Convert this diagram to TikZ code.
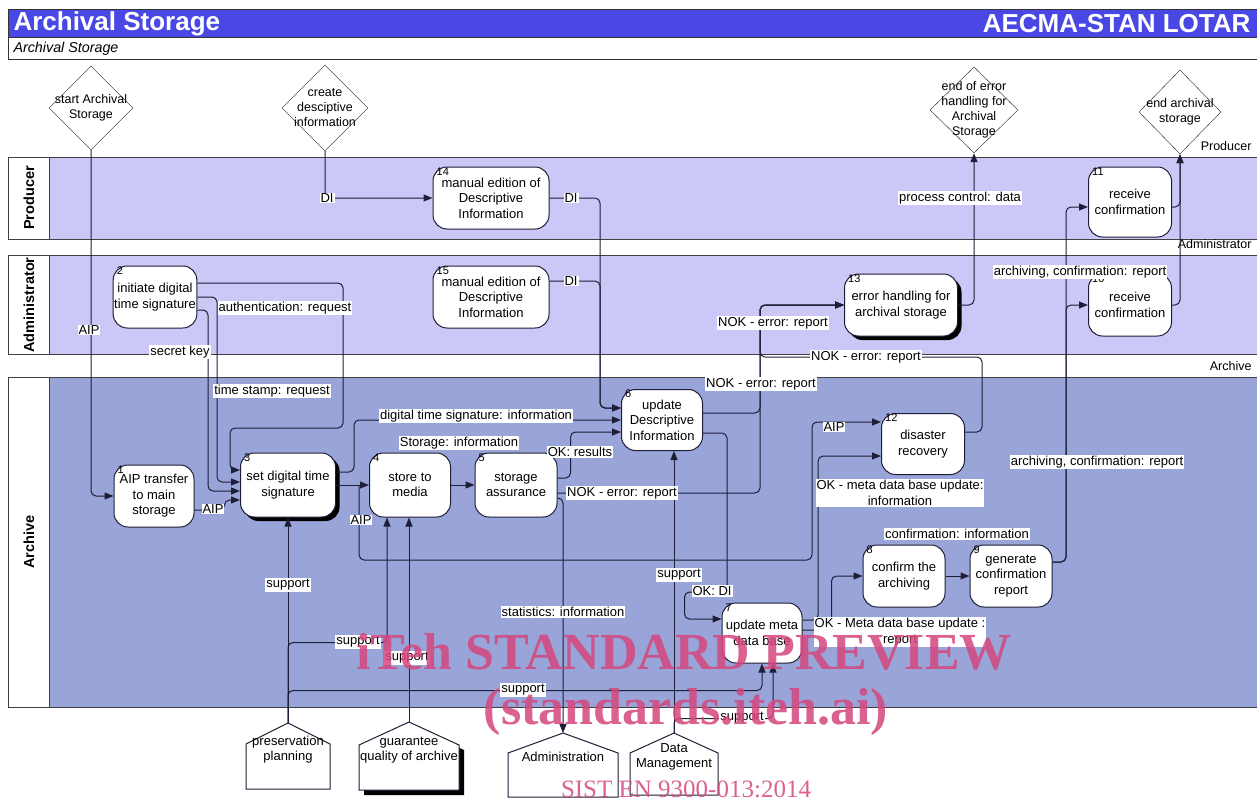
\documentclass[tikz,border=0pt]{standalone}
\usepackage{fontspec}
\setmainfont{Liberation Sans}
\newfontfamily\wmfont{Liberation Serif}
\usetikzlibrary{shapes.geometric,arrows.meta,positioning,calc,shadows}
\definecolor{hdrblue}{RGB}{74,72,228}
\definecolor{lanelight}{RGB}{203,199,246}
\definecolor{lanedark}{RGB}{153,164,216}
\definecolor{wire}{RGB}{30,30,55}
\definecolor{wmpink}{RGB}{212,70,125}

\begin{document}
\begin{tikzpicture}
[x=1pt, y=-1pt, font=\fontsize{13}{15.5}\selectfont, >={Triangle[length=9pt,width=7pt]},
 proc/.style={draw=wire, fill=white, line width=1pt, rounded corners=14pt,
   minimum width=82pt, minimum height=62pt, align=center, inner sep=1pt},
 procsh/.style={proc, drop shadow={shadow xshift=4pt, shadow yshift=-4pt, opacity=1, fill=black}},
 event/.style={draw=wire, diamond, minimum width=84pt, minimum height=84pt, inner sep=0pt},
 evtext/.style={align=center, font=\fontsize{12.5}{15}\selectfont},
 lbl/.style={fill=white, inner sep=1pt, align=center},
 num/.style={font=\fontsize{11}{11}\selectfont, inner sep=0pt, anchor=north west},
 flow/.style={draw=wire, line width=1pt, rounded corners=5pt, ->},
 lanehead/.style={draw=black!75, fill=white, line width=1pt},
 lanename/.style={rotate=90, font=\fontsize{14.5}{16}\selectfont\bfseries},
 laneside/.style={font=\fontsize{12.5}{14}\selectfont, anchor=east},
 house/.style={align=center, font=\fontsize{13}{15}\selectfont},
]
%\draw[help lines] (0,0) grid[step=50] (1257,800);
\useasboundingbox (0,0) rectangle (1257,800);

\draw[draw=black!80, fill=hdrblue, line width=1pt] (8,10) rectangle (1262,38);
\node[anchor=west, text=white, font=\fontsize{26}{28}\selectfont\bfseries] (title) at (10,24) {Archival Storage};
\node[anchor=east, text=white, font=\fontsize{26}{28}\selectfont\bfseries] (lotar) at (1254,24) {AECMA-STAN LOTAR};
\draw[draw=black!80, fill=white, line width=1pt] (8,38) rectangle (1262,60);
\node[anchor=west, font=\fontsize{14.3}{15}\selectfont\itshape] (subtitle) at (10,49) {Archival Storage};

\foreach \top/\bot/\col in {157/239/lanelight, 255/354/lanelight, 377/707/lanedark}{
  \draw[draw=black!75, fill=\col, line width=1pt] (49,\top) rectangle (1262,\bot);
  \draw[lanehead] (8,\top) rectangle (49,\bot);
}
\node[lanename] (lnProd) at (29,198) {Producer};
\node[lanename] (lnAdm) at (29,305) {Administrator};
\node[lanename] (lnArc) at (29,542) {Archive};
\node[laneside] (sdProd) at (1255,146) {Producer};
\node[laneside] (sdAdm) at (1255,244) {Administrator};
\node[laneside] (sdArc) at (1255,366) {Archive};

\node[event] (evStart) at (91,108) {};
\node[event, minimum width=86pt, minimum height=86pt] (evCreate) at (325,108) {};
\node[event, minimum width=88pt, minimum height=86pt] (evErr) at (974,110) {};
\node[event, minimum width=82pt] (evEnd) at (1180,112) {};
\node[evtext] (tStart) at (evStart) {start Archival\\Storage};
\node[evtext] (tCreate) at (evCreate) {create\\desciptive\\information};
\node[evtext] (tErr) at (evErr) {end of error\\handling for\\Archival\\Storage};
\node[evtext] (tEnd) at (evEnd) {end archival\\storage};

\node[proc, minimum width=116pt] (b14) at (491,198) {manual edition of\\Descriptive\\Information};
\node[proc, minimum width=116pt] (b15) at (491,297) {manual edition of\\Descriptive\\Information};
\node[proc, minimum width=81pt] (b2) at (155,297) {initiate digital\\time signature};
\node[procsh, minimum width=113pt] (b13) at (901,305) {error handling for\\archival storage};
\node[proc, minimum width=83pt, minimum height=70pt] (b11) at (1130,202) {receive\\confirmation};
\node[proc, minimum width=83pt] (b10) at (1130,305) {receive\\confirmation};
\node[proc, minimum width=80pt] (b1) at (154,496) {AIP transfer\\to main\\storage};
\node[procsh, minimum width=95pt, minimum height=64pt] (b3) at (288,485) {set digital time\\signature};
\node[proc, minimum width=81pt, minimum height=64pt] (b4) at (410,485) {store to\\media};
\node[proc, minimum height=64pt] (b5) at (516,485) {storage\\assurance};
\node[proc, minimum width=81pt, minimum height=61pt] (b6) at (662,420) {update\\Descriptive\\Information};
\node[proc, minimum width=83pt, minimum height=61pt] (b12) at (923,444) {disaster\\recovery};
\node[proc] (b8) at (904,576) {confirm the\\archiving};
\node[proc] (b9) at (1011,576) {generate\\confirmation\\report};
\node[proc, minimum width=80pt, minimum height=60pt] (b7) at (762,633) {update meta\\data base};
\foreach \b/\k in {b1/1,b2/2,b3/3,b4/4,b5/5,b6/6,b7/7,b8/8,b9/9,b10/10,b11/11,b12/12,b13/13,b14/14,b15/15}
  \node[num] (n\k) at ($(\b.north west)+(4,1)$) {\k};

\fill[black] (364,795) -- (364,750) -- (414,727) -- (464,750) -- (464,795) -- cycle;
\foreach \nm/\cx/\hw/\ty/\sy/\by in {plan/288/42/723/744/789, qual/409/50/722/745/790, admin/563/55/733/753/797, datam/674/44/733/753/795}{
  \draw[draw=wire, fill=white, line width=1pt] (\cx-\hw,\by) -- (\cx-\hw,\sy) -- (\cx,\ty) -- (\cx+\hw,\sy) -- (\cx+\hw,\by) -- cycle;
  \coordinate (\nm-top) at (\cx,\ty);
}
\node[house] (planTxt) at (288,750) {preservation\\planning};
\node[house] (qualTxt) at (409,750) {guarantee\\quality of archive};
\node[house] (adminTxt) at (563,757) {Administration};
\node[house] (datamTxt) at (674,757) {Data\\Management};

\draw[flow] (evStart.south) |- (b1.west);
\draw[flow] (evCreate.south) |- (b14.west);
\draw[flow] (b14.east) -| ($(b6.west)+(-21,-12)$) -- ($(b6.west)+(0,-12)$);
\draw[flow] ($(b15.east)+(0,-16)$) -| ($(b6.west)+(-21,-12)$) -- ($(b6.west)+(0,-12)$);
\draw[flow] ($(b2.east)+(0,-14)$) -| (343,428) -| ($(b3.west)+(-10,-15)$) -- ($(b3.west)+(0,-15)$);
\draw[flow] (b2.east) -| (217,450) |- ($(b3.west)+(0,-3)$);
\draw[flow] ($(b2.east)+(0,13)$) -| (208,450) |- ($(b3.west)+(0,6)$);
\draw[flow] ($(b1.east)+(0,14)$) -- ++(30,0) |- ($(b3.west)+(0,15)$);
\draw[flow] (b3.east) -- (b4.west);
\coordinate (aipfork) at ($(b3.east)!0.7!(b4.west)$);
\draw[flow] (aipfork) -- ++(0,75) -| ($(b12.west)+(-69,-22)$) -- ($(b12.west)+(0,-22)$);
\draw[flow] ($(b3.east)+(0,-13)$) -- ++(18,0) |- (b6.west);
\draw[flow] (b4.east) -- (b5.west);
\draw[flow] ($(b5.east)+(0,-7)$) -- ++(13,0) |- ($(b6.west)+(0,12)$);
\draw[flow] ($(b5.east)+(0,8)$) -| ($(b13.west)+(-84,0)$) -- (b13.west);
\draw[flow] ($(b6.east)+(0,-7)$) -| ($(b13.west)+(-84,0)$) -- (b13.west);
\draw[flow] ($(b12.east)+(0,-12)$) -| ($(b12.east)+(17,-87)$) -| ($(b13.west)+(-84,0)$) -- (b13.west);
\draw[flow] ($(b5.east)+(0,13)$) -| (admin-top);
\draw[flow] ($(b6.east)+(0,13)$) -| (727,592) -| ($(b7.west)+(-37,-14)$) -- ($(b7.west)+(0,-14)$);
\draw[flow] (datam-top) -- (datam-top |- b6.south);
\draw[flow] (datam-top) |- ($(b7.south)+(11,55)$) -- ($(b7.south)+(11,0)$);
\draw[flow] (plan-top) -- (plan-top |- b3.south);
\draw[flow] (plan-top) |- ($(b4.south)+(-23,125)$) -- ($(b4.south)+(-23,0)$);
\draw[flow] (qual-top) -- (qual-top |- b4.south);
\draw[flow] (plan-top) |- ($(b7.south)+(0,27)$) -- (b7.south);
\draw[flow] ($(b7.east)+(0,-13)$) -| ($(b12.west)+(-63,12)$) -- ($(b12.west)+(0,12)$);
\draw[flow] ($(b7.east)+(0,-3)$) -| ($(b8.west)+(-31,0)$) -- (b8.west);
\draw[flow] (b8.east) -- (b9.west);
\draw[flow] ($(b9.east)+(0,-14)$) -| ($(b10.west)+(-22,0)$) -- (b10.west);
\draw[flow] ($(b9.east)+(0,-14)$) -| ($(b11.west)+(-22,5)$) -- ($(b11.west)+(0,5)$);
\draw[flow] ($(b11.east)+(0,5)$) -| (evEnd.south);
\draw[flow] (b10.east) -| (evEnd.south);
\draw[flow] (b13.east) -| (evErr.south);

\node[lbl] (l1) at (89,330) {AIP};
\node[lbl] (l2) at (327,198) {DI};
\node[lbl] (l3) at (571,198) {DI};
\node[lbl] (l4) at (571,281) {DI};
\node[lbl] (l5) at (285,308) {authentication: request};
\node[lbl] (l6) at (180,352) {secret key};
\node[lbl] (l7) at (272,391) {time stamp: request};
\node[lbl] (l8) at (213,509) {AIP};
\node[lbl] (l9) at (476,416) {digital time signature: information};
\node[lbl] (l10) at (459,443) {Storage: information};
\node[lbl] (l11) at (580,452) {OK: results};
\node[lbl] (l12) at (622,493) {NOK - error: report};
\node[lbl] (l13) at (361,520) {AIP};
\node[lbl] (l14) at (288,585) {support};
\node[lbl] (l15) at (358,642) {support};
\node[lbl] (l16) at (407,658) {support};
\node[lbl] (l17) at (523,690) {support};
\node[lbl] (l18) at (563,612) {statistics: information};
\node[lbl] (l19) at (679,575) {support};
\node[lbl] (l20) at (712,591) {OK: DI};
\node[lbl] (l21) at (742,718) {support};
\node[lbl] (l22) at (761,384) {NOK - error: report};
\node[lbl] (l23) at (773,323) {NOK - error: report};
\node[lbl] (l24) at (866,357) {NOK - error: report};
\node[lbl] (l25) at (834,427) {AIP};
\node[lbl] (l26) at (900,493) {OK - meta data base update:\\information};
\node[lbl] (l27) at (957,534) {confirmation: information};
\node[lbl] (l28) at (900,632) {OK - Meta data base update :\\report};
\node[lbl] (l29) at (1097,462) {archiving, confirmation: report};
\node[lbl] (l30) at (1080,272) {archiving, confirmation: report};
\node[lbl] (l31) at (960,198) {process control: data};

\node[text=wmpink, opacity=0.85, font=\wmfont\fontsize{52}{52}\selectfont\bfseries] (wm1) at (684,652) {iTeh STANDARD PREVIEW};
\node[text=wmpink, opacity=0.85, font=\wmfont\fontsize{52}{52}\selectfont\bfseries] (wm2) at (686,712) {(standards.iteh.ai)};
\node[text=wmpink, opacity=0.85, font=\wmfont\fontsize{25}{25}\selectfont] (wm3) at (686,789) {SIST EN 9300-013:2014};
\end{tikzpicture}
\end{document}
